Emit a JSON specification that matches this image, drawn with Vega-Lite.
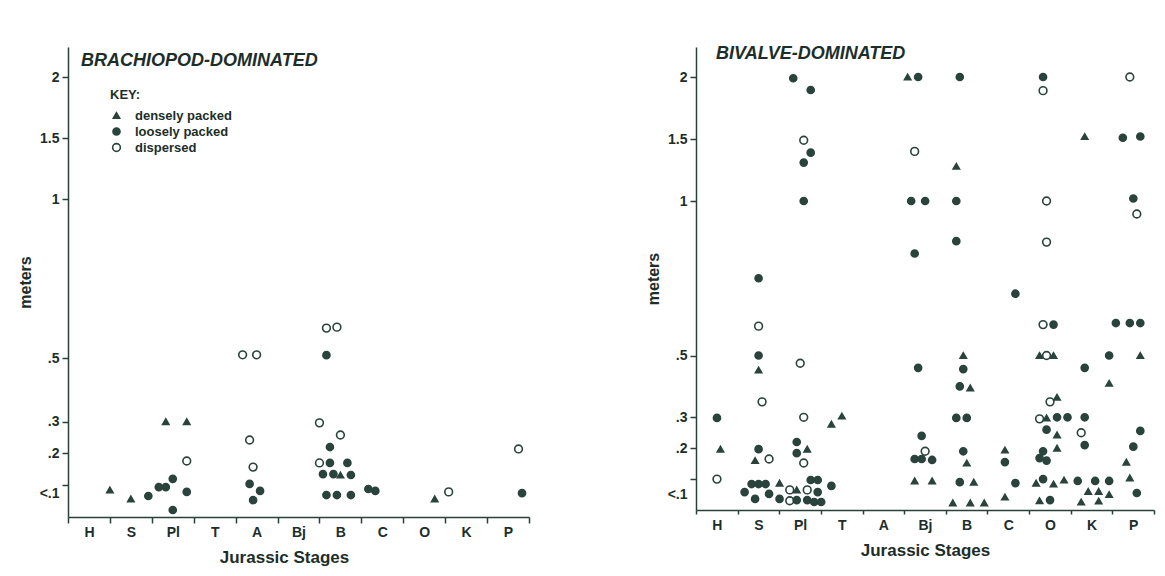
{
  "$schema": "https://vega.github.io/schema/vega-lite/v6.json",
  "background": "white",
  "padding": {"left": 17, "top": 45, "right": 5, "bottom": 5},
  "spacing": 115,
  "config": {
    "view": {"stroke": null},
    "font": "Liberation Sans",
    "axis": {"labelFont": "Liberation Sans", "labelFontWeight": "bold", "labelFontSize": 14, "labelColor": "#1c2e29", "titleFont": "Liberation Sans", "titleFontWeight": "bold", "titleFontSize": 16, "titleColor": "#1c2e29", "domainColor": "#2a403a", "tickColor": "#2a403a", "domainWidth": 1.5, "tickWidth": 1.5, "grid": false}
  },
  "resolve": {"legend": {"color": "independent", "shape": "independent", "size": "independent"}},
  "datasets": {
    "brachiopod": [
      {"stage": "S", "type": "densely packed", "meters": 0.085, "slot": -6},
      {"stage": "S", "type": "densely packed", "meters": 0.057, "slot": 0},
      {"stage": "S", "type": "loosely packed", "meters": 0.066, "slot": 5},
      {"stage": "Pl", "type": "loosely packed", "meters": 0.094, "slot": -4},
      {"stage": "Pl", "type": "loosely packed", "meters": 0.094, "slot": -2},
      {"stage": "Pl", "type": "loosely packed", "meters": 0.12, "slot": 0},
      {"stage": "Pl", "type": "loosely packed", "meters": 0.022, "slot": 0},
      {"stage": "Pl", "type": "densely packed", "meters": 0.30, "slot": -2},
      {"stage": "Pl", "type": "densely packed", "meters": 0.30, "slot": 4},
      {"stage": "Pl", "type": "dispersed", "meters": 0.176, "slot": 4},
      {"stage": "Pl", "type": "loosely packed", "meters": 0.079, "slot": 4},
      {"stage": "A", "type": "dispersed", "meters": 0.51, "slot": -4},
      {"stage": "A", "type": "dispersed", "meters": 0.51, "slot": 0},
      {"stage": "A", "type": "dispersed", "meters": 0.242, "slot": -2},
      {"stage": "A", "type": "dispersed", "meters": 0.157, "slot": -1},
      {"stage": "A", "type": "loosely packed", "meters": 0.104, "slot": -2},
      {"stage": "A", "type": "loosely packed", "meters": 0.082, "slot": 1},
      {"stage": "A", "type": "loosely packed", "meters": 0.053, "slot": -1},
      {"stage": "B", "type": "dispersed", "meters": 0.594, "slot": -4},
      {"stage": "B", "type": "dispersed", "meters": 0.597, "slot": -1},
      {"stage": "B", "type": "loosely packed", "meters": 0.509, "slot": -4},
      {"stage": "B", "type": "dispersed", "meters": 0.296, "slot": -6},
      {"stage": "B", "type": "dispersed", "meters": 0.258, "slot": 0},
      {"stage": "B", "type": "loosely packed", "meters": 0.22, "slot": -3},
      {"stage": "B", "type": "dispersed", "meters": 0.17, "slot": -6},
      {"stage": "B", "type": "loosely packed", "meters": 0.17, "slot": -3},
      {"stage": "B", "type": "loosely packed", "meters": 0.17, "slot": 2},
      {"stage": "B", "type": "loosely packed", "meters": 0.135, "slot": -5},
      {"stage": "B", "type": "loosely packed", "meters": 0.135, "slot": -2},
      {"stage": "B", "type": "densely packed", "meters": 0.132, "slot": 0},
      {"stage": "B", "type": "loosely packed", "meters": 0.132, "slot": 3},
      {"stage": "B", "type": "loosely packed", "meters": 0.069, "slot": -4},
      {"stage": "B", "type": "loosely packed", "meters": 0.069, "slot": -1},
      {"stage": "B", "type": "loosely packed", "meters": 0.069, "slot": 3},
      {"stage": "C", "type": "loosely packed", "meters": 0.088, "slot": -4},
      {"stage": "C", "type": "loosely packed", "meters": 0.082, "slot": -2},
      {"stage": "O", "type": "densely packed", "meters": 0.057, "slot": 3},
      {"stage": "K", "type": "dispersed", "meters": 0.079, "slot": -5},
      {"stage": "P", "type": "dispersed", "meters": 0.214, "slot": 3},
      {"stage": "P", "type": "loosely packed", "meters": 0.075, "slot": 4}
    ],
    "bivalve": [
      {"stage": "H", "type": "loosely packed", "meters": 0.298, "slot": 0},
      {"stage": "H", "type": "densely packed", "meters": 0.197, "slot": 1},
      {"stage": "H", "type": "dispersed", "meters": 0.10, "slot": 0},
      {"stage": "S", "type": "loosely packed", "meters": 0.75, "slot": 0},
      {"stage": "S", "type": "dispersed", "meters": 0.595, "slot": 0},
      {"stage": "S", "type": "loosely packed", "meters": 0.50, "slot": 0},
      {"stage": "S", "type": "densely packed", "meters": 0.453, "slot": 0},
      {"stage": "S", "type": "dispersed", "meters": 0.35, "slot": 1},
      {"stage": "S", "type": "loosely packed", "meters": 0.197, "slot": 0},
      {"stage": "S", "type": "densely packed", "meters": 0.16, "slot": -1},
      {"stage": "S", "type": "dispersed", "meters": 0.165, "slot": 3},
      {"stage": "S", "type": "loosely packed", "meters": 0.084, "slot": -2},
      {"stage": "S", "type": "loosely packed", "meters": 0.084, "slot": 0},
      {"stage": "S", "type": "loosely packed", "meters": 0.084, "slot": 2},
      {"stage": "S", "type": "densely packed", "meters": 0.087, "slot": 6},
      {"stage": "S", "type": "loosely packed", "meters": 0.058, "slot": -4},
      {"stage": "S", "type": "loosely packed", "meters": 0.036, "slot": -1},
      {"stage": "S", "type": "loosely packed", "meters": 0.052, "slot": 3},
      {"stage": "S", "type": "loosely packed", "meters": 0.036, "slot": 6},
      {"stage": "Pl", "type": "loosely packed", "meters": 1.99, "slot": -2},
      {"stage": "Pl", "type": "loosely packed", "meters": 1.895, "slot": 3},
      {"stage": "Pl", "type": "dispersed", "meters": 1.49, "slot": 1},
      {"stage": "Pl", "type": "loosely packed", "meters": 1.39, "slot": 3},
      {"stage": "Pl", "type": "loosely packed", "meters": 1.31, "slot": 1},
      {"stage": "Pl", "type": "loosely packed", "meters": 1.0, "slot": 1},
      {"stage": "Pl", "type": "dispersed", "meters": 0.475, "slot": 0},
      {"stage": "Pl", "type": "dispersed", "meters": 0.30, "slot": 1},
      {"stage": "Pl", "type": "loosely packed", "meters": 0.22, "slot": -1},
      {"stage": "Pl", "type": "densely packed", "meters": 0.197, "slot": 2},
      {"stage": "Pl", "type": "loosely packed", "meters": 0.184, "slot": -1},
      {"stage": "Pl", "type": "dispersed", "meters": 0.152, "slot": 1},
      {"stage": "Pl", "type": "loosely packed", "meters": 0.097, "slot": 3},
      {"stage": "Pl", "type": "loosely packed", "meters": 0.097, "slot": 5},
      {"stage": "Pl", "type": "dispersed", "meters": 0.065, "slot": -3},
      {"stage": "Pl", "type": "densely packed", "meters": 0.065, "slot": -1},
      {"stage": "Pl", "type": "dispersed", "meters": 0.065, "slot": 2},
      {"stage": "Pl", "type": "loosely packed", "meters": 0.058, "slot": 5},
      {"stage": "Pl", "type": "dispersed", "meters": 0.03, "slot": -3},
      {"stage": "Pl", "type": "loosely packed", "meters": 0.032, "slot": -1},
      {"stage": "Pl", "type": "loosely packed", "meters": 0.032, "slot": 2},
      {"stage": "Pl", "type": "loosely packed", "meters": 0.026, "slot": 4},
      {"stage": "Pl", "type": "loosely packed", "meters": 0.026, "slot": 6},
      {"stage": "T", "type": "densely packed", "meters": 0.304, "slot": 0},
      {"stage": "T", "type": "densely packed", "meters": 0.278, "slot": -3},
      {"stage": "T", "type": "loosely packed", "meters": 0.078, "slot": -3},
      {"stage": "Bj", "type": "densely packed", "meters": 2.0, "slot": -5},
      {"stage": "Bj", "type": "loosely packed", "meters": 2.0, "slot": -2},
      {"stage": "Bj", "type": "dispersed", "meters": 1.40, "slot": -3},
      {"stage": "Bj", "type": "loosely packed", "meters": 1.0, "slot": -4},
      {"stage": "Bj", "type": "loosely packed", "meters": 1.0, "slot": 0},
      {"stage": "Bj", "type": "loosely packed", "meters": 0.83, "slot": -3},
      {"stage": "Bj", "type": "loosely packed", "meters": 0.46, "slot": -2},
      {"stage": "Bj", "type": "loosely packed", "meters": 0.24, "slot": -1},
      {"stage": "Bj", "type": "dispersed", "meters": 0.19, "slot": 0},
      {"stage": "Bj", "type": "loosely packed", "meters": 0.165, "slot": -3},
      {"stage": "Bj", "type": "loosely packed", "meters": 0.165, "slot": -1},
      {"stage": "Bj", "type": "loosely packed", "meters": 0.162, "slot": 2},
      {"stage": "Bj", "type": "densely packed", "meters": 0.094, "slot": -3},
      {"stage": "Bj", "type": "densely packed", "meters": 0.094, "slot": 2},
      {"stage": "B", "type": "loosely packed", "meters": 2.0, "slot": -2},
      {"stage": "B", "type": "densely packed", "meters": 1.28, "slot": -3},
      {"stage": "B", "type": "loosely packed", "meters": 1.0, "slot": -3},
      {"stage": "B", "type": "loosely packed", "meters": 0.87, "slot": -3},
      {"stage": "B", "type": "densely packed", "meters": 0.50, "slot": -1},
      {"stage": "B", "type": "loosely packed", "meters": 0.456, "slot": -1},
      {"stage": "B", "type": "loosely packed", "meters": 0.40, "slot": -2},
      {"stage": "B", "type": "densely packed", "meters": 0.395, "slot": 1},
      {"stage": "B", "type": "loosely packed", "meters": 0.298, "slot": -3},
      {"stage": "B", "type": "loosely packed", "meters": 0.298, "slot": 0},
      {"stage": "B", "type": "loosely packed", "meters": 0.19, "slot": -1},
      {"stage": "B", "type": "densely packed", "meters": 0.152, "slot": 0},
      {"stage": "B", "type": "loosely packed", "meters": 0.09, "slot": -2},
      {"stage": "B", "type": "densely packed", "meters": 0.09, "slot": 2},
      {"stage": "B", "type": "densely packed", "meters": 0.023, "slot": -4},
      {"stage": "B", "type": "densely packed", "meters": 0.023, "slot": 1},
      {"stage": "B", "type": "densely packed", "meters": 0.023, "slot": 5},
      {"stage": "C", "type": "loosely packed", "meters": 0.70, "slot": 2},
      {"stage": "C", "type": "densely packed", "meters": 0.194, "slot": -1},
      {"stage": "C", "type": "loosely packed", "meters": 0.155, "slot": -1},
      {"stage": "C", "type": "loosely packed", "meters": 0.087, "slot": 2},
      {"stage": "C", "type": "densely packed", "meters": 0.042, "slot": -1},
      {"stage": "O", "type": "loosely packed", "meters": 2.0, "slot": -2},
      {"stage": "O", "type": "dispersed", "meters": 1.89, "slot": -2},
      {"stage": "O", "type": "dispersed", "meters": 1.0, "slot": -1},
      {"stage": "O", "type": "dispersed", "meters": 0.867, "slot": -1},
      {"stage": "O", "type": "dispersed", "meters": 0.6, "slot": -2},
      {"stage": "O", "type": "loosely packed", "meters": 0.6, "slot": 1},
      {"stage": "O", "type": "densely packed", "meters": 0.50, "slot": -3},
      {"stage": "O", "type": "dispersed", "meters": 0.50, "slot": -1},
      {"stage": "O", "type": "densely packed", "meters": 0.50, "slot": 1},
      {"stage": "O", "type": "dispersed", "meters": 0.35, "slot": 0},
      {"stage": "O", "type": "densely packed", "meters": 0.365, "slot": 2},
      {"stage": "O", "type": "dispersed", "meters": 0.295, "slot": -3},
      {"stage": "O", "type": "densely packed", "meters": 0.298, "slot": -1},
      {"stage": "O", "type": "loosely packed", "meters": 0.30, "slot": 2},
      {"stage": "O", "type": "loosely packed", "meters": 0.30, "slot": 5},
      {"stage": "O", "type": "loosely packed", "meters": 0.26, "slot": -1},
      {"stage": "O", "type": "densely packed", "meters": 0.243, "slot": 2},
      {"stage": "O", "type": "densely packed", "meters": 0.20, "slot": 2},
      {"stage": "O", "type": "loosely packed", "meters": 0.19, "slot": -2},
      {"stage": "O", "type": "loosely packed", "meters": 0.168, "slot": -3},
      {"stage": "O", "type": "loosely packed", "meters": 0.16, "slot": -1},
      {"stage": "O", "type": "densely packed", "meters": 0.087, "slot": -4},
      {"stage": "O", "type": "loosely packed", "meters": 0.10, "slot": -2},
      {"stage": "O", "type": "densely packed", "meters": 0.084, "slot": 1},
      {"stage": "O", "type": "densely packed", "meters": 0.097, "slot": 4},
      {"stage": "O", "type": "densely packed", "meters": 0.03, "slot": -3},
      {"stage": "O", "type": "loosely packed", "meters": 0.032, "slot": 0},
      {"stage": "K", "type": "densely packed", "meters": 1.52, "slot": -2},
      {"stage": "K", "type": "loosely packed", "meters": 0.46, "slot": -2},
      {"stage": "K", "type": "loosely packed", "meters": 0.50, "slot": 5},
      {"stage": "K", "type": "densely packed", "meters": 0.41, "slot": 5},
      {"stage": "K", "type": "loosely packed", "meters": 0.30, "slot": -2},
      {"stage": "K", "type": "dispersed", "meters": 0.25, "slot": -3},
      {"stage": "K", "type": "loosely packed", "meters": 0.21, "slot": -2},
      {"stage": "K", "type": "loosely packed", "meters": 0.094, "slot": -4},
      {"stage": "K", "type": "loosely packed", "meters": 0.094, "slot": 1},
      {"stage": "K", "type": "loosely packed", "meters": 0.094, "slot": 5},
      {"stage": "K", "type": "densely packed", "meters": 0.06, "slot": -1},
      {"stage": "K", "type": "densely packed", "meters": 0.06, "slot": 2},
      {"stage": "K", "type": "densely packed", "meters": 0.05, "slot": 5},
      {"stage": "K", "type": "densely packed", "meters": 0.026, "slot": -3},
      {"stage": "K", "type": "densely packed", "meters": 0.029, "slot": 2},
      {"stage": "P", "type": "dispersed", "meters": 2.0, "slot": -1},
      {"stage": "P", "type": "loosely packed", "meters": 1.51, "slot": -3},
      {"stage": "P", "type": "loosely packed", "meters": 1.52, "slot": 2},
      {"stage": "P", "type": "loosely packed", "meters": 1.02, "slot": 0},
      {"stage": "P", "type": "dispersed", "meters": 0.958, "slot": 1},
      {"stage": "P", "type": "loosely packed", "meters": 0.605, "slot": -5},
      {"stage": "P", "type": "loosely packed", "meters": 0.605, "slot": -1},
      {"stage": "P", "type": "loosely packed", "meters": 0.605, "slot": 2},
      {"stage": "P", "type": "densely packed", "meters": 0.50, "slot": 2},
      {"stage": "P", "type": "loosely packed", "meters": 0.256, "slot": 2},
      {"stage": "P", "type": "loosely packed", "meters": 0.205, "slot": 0},
      {"stage": "P", "type": "densely packed", "meters": 0.155, "slot": -2},
      {"stage": "P", "type": "densely packed", "meters": 0.104, "slot": -1},
      {"stage": "P", "type": "loosely packed", "meters": 0.055, "slot": 1}
    ]
  },
  "hconcat": [
    {
      "width": 461,
      "height": 470,
      "title": {"text": "BRACHIOPOD-DOMINATED", "anchor": "start", "frame": "group", "fontStyle": "italic", "fontWeight": "bold", "fontSize": 18, "font": "Liberation Sans", "color": "#1c2e29", "offset": -23, "dx": 13},
      "data": {"name": "brachiopod"},
      "mark": {"type": "point", "filled": true, "stroke": "#2a433c", "strokeWidth": 1.6, "opacity": 1},
      "encoding": {
        "x": {"field": "stage", "type": "nominal", "scale": {"domain": ["H", "S", "Pl", "T", "A", "Bj", "B", "C", "O", "K", "P"], "paddingInner": 0, "paddingOuter": 0}, "axis": {"title": "Jurassic Stages", "titleX": 216, "titleFontSize": 17, "labelAngle": 0, "tickBand": "extent", "tickSize": 6, "labelPadding": 2, "titlePadding": 10}},
        "xOffset": {"field": "slot", "type": "nominal", "scale": {"domain": [-6, -5, -4, -3, -2, -1, 0, 1, 2, 3, 4, 5, 6], "paddingInner": 0, "paddingOuter": 0}},
        "y": {"field": "meters", "type": "quantitative", "scale": {"domain": [0, 1, 2, 2.246], "range": [470, 152, 30, 0], "nice": false, "zero": false}, "axis": {"title": "meters", "values": [0.075, 0.1, 0.2, 0.3, 0.5, 1, 1.5, 2], "tickSize": 6, "labelPadding": 3, "titlePadding": 6, "labelExpr": "datum.value < 0.09 ? '<.1' : datum.value == 0.1 ? '' : datum.value == 0.2 ? '.2' : datum.value == 0.3 ? '.3' : datum.value == 0.5 ? '.5' : datum.value == 1 ? '1' : datum.value == 1.5 ? '1.5' : '2'", "tickOpacity": {"condition": {"test": "datum.value < 0.09", "value": 0}, "value": 1}}},
        "shape": {"field": "type", "type": "nominal", "scale": {"domain": ["densely packed", "loosely packed", "dispersed"], "range": ["triangle-up", "circle", "circle"]}, "legend": {"title": "KEY:", "orient": "none", "legendX": 42, "legendY": 42, "titleFontSize": 13, "titleFontWeight": "bold", "titleColor": "#1c2e29", "labelFontSize": 13, "labelFontWeight": "bold", "labelColor": "#1c2e29", "labelFont": "Liberation Sans", "titleFont": "Liberation Sans", "symbolStrokeColor": "#2a433c", "symbolStrokeWidth": 1.6, "rowPadding": 1, "titlePadding": 7, "labelOffset": 12}},
        "color": {"field": "type", "type": "nominal", "scale": {"domain": ["densely packed", "loosely packed", "dispersed"], "range": ["#2a433c", "#2a433c", "#ffffff"]}, "legend": {"title": "KEY:", "orient": "none", "legendX": 42, "legendY": 42, "titleFontSize": 13, "titleFontWeight": "bold", "titleColor": "#1c2e29", "labelFontSize": 13, "labelFontWeight": "bold", "labelColor": "#1c2e29", "labelFont": "Liberation Sans", "titleFont": "Liberation Sans", "symbolStrokeColor": "#2a433c", "symbolStrokeWidth": 1.6, "rowPadding": 1, "titlePadding": 7, "labelOffset": 12}},
        "size": {"field": "type", "type": "nominal", "scale": {"domain": ["densely packed", "loosely packed", "dispersed"], "range": [40, 60, 36]}, "legend": {"title": "KEY:", "orient": "none", "legendX": 42, "legendY": 42, "titleFontSize": 13, "titleFontWeight": "bold", "titleColor": "#1c2e29", "labelFontSize": 13, "labelFontWeight": "bold", "labelColor": "#1c2e29", "labelFont": "Liberation Sans", "titleFont": "Liberation Sans", "symbolStrokeColor": "#2a433c", "symbolStrokeWidth": 1.6, "rowPadding": 1, "titlePadding": 7, "labelOffset": 12}}
      }
    },
    {
      "width": 458,
      "height": 463,
      "title": {"text": "BIVALVE-DOMINATED", "anchor": "start", "frame": "group", "fontStyle": "italic", "fontWeight": "bold", "fontSize": 18, "font": "Liberation Sans", "color": "#1c2e29", "offset": -16, "dx": 20},
      "data": {"name": "bivalve"},
      "mark": {"type": "point", "filled": true, "stroke": "#2a433c", "strokeWidth": 1.6, "opacity": 1},
      "encoding": {
        "x": {"field": "stage", "type": "nominal", "scale": {"domain": ["H", "S", "Pl", "T", "A", "Bj", "B", "C", "O", "K", "P"], "paddingInner": 0, "paddingOuter": 0}, "axis": {"title": "Jurassic Stages", "titleFontSize": 17, "labelAngle": 0, "tickBand": "extent", "tickSize": 4, "labelPadding": 4, "titlePadding": 10}},
        "xOffset": {"field": "slot", "type": "nominal", "scale": {"domain": [-6, -5, -4, -3, -2, -1, 0, 1, 2, 3, 4, 5, 6], "paddingInner": 0, "paddingOuter": 0}},
        "y": {"field": "meters", "type": "quantitative", "scale": {"domain": [0, 1, 2, 2.24], "range": [463, 154, 30, 0], "nice": false, "zero": false}, "axis": {"title": "meters", "values": [0.05, 0.1, 0.2, 0.3, 0.5, 1, 1.5, 2], "tickSize": 6, "labelPadding": 3, "titlePadding": 6, "labelExpr": "datum.value < 0.09 ? '<.1' : datum.value == 0.1 ? '' : datum.value == 0.2 ? '.2' : datum.value == 0.3 ? '.3' : datum.value == 0.5 ? '.5' : datum.value == 1 ? '1' : datum.value == 1.5 ? '1.5' : '2'", "tickOpacity": {"condition": {"test": "datum.value < 0.09", "value": 0}, "value": 1}}},
        "shape": {"field": "type", "type": "nominal", "scale": {"domain": ["densely packed", "loosely packed", "dispersed"], "range": ["triangle-up", "circle", "circle"]}, "legend": null},
        "color": {"field": "type", "type": "nominal", "scale": {"domain": ["densely packed", "loosely packed", "dispersed"], "range": ["#2a433c", "#2a433c", "#ffffff"]}, "legend": null},
        "size": {"field": "type", "type": "nominal", "scale": {"domain": ["densely packed", "loosely packed", "dispersed"], "range": [40, 60, 36]}, "legend": null}
      }
    }
  ]
}
